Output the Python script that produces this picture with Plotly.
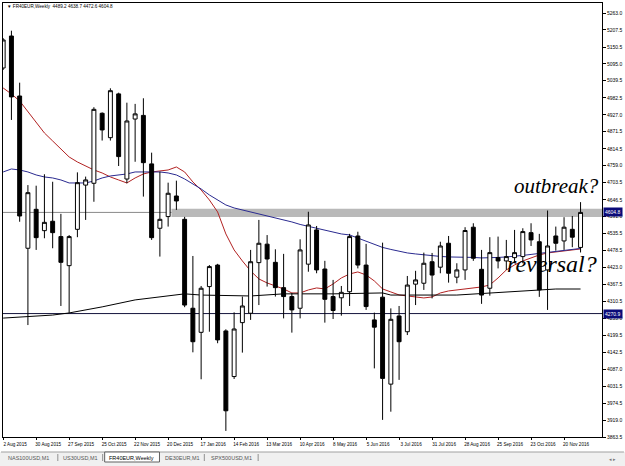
import plotly.graph_objects as go

# ---------------- data ----------------
tick_labels = ["2 Aug 2015", "30 Aug 2015", "27 Sep 2015", "25 Oct 2015", "22 Nov 2015",
               "20 Dec 2015", "17 Jan 2016", "14 Feb 2016", "13 Mar 2016", "10 Apr 2016",
               "8 May 2016", "5 Jun 2016", "3 Jul 2016", "31 Jul 2016", "28 Aug 2016",
               "25 Sep 2016", "23 Oct 2016", "20 Nov 2016"]
tick_pos = [0, 4, 8, 12, 16, 20, 24, 28, 32, 36, 40, 44, 48, 52, 56, 60, 64, 68]

bar_open = [5081.5, 5187, 4989, 4486.5, 4615, 4544.6, 4575.6, 4525, 4429, 4549,
            4695, 4701, 4932, 4851.5, 4996, 4715, 4913, 4925, 4765, 4552.5,
            4591, 4659, 4582, 4288.5, 4209, 4360, 4431, 4213.6, 4063, 4241,
            4272, 4439, 4500, 4440, 4356.5, 4327, 4288.5, 4434, 4547, 4418,
            4327, 4323, 4343, 4527, 4431, 4250, 4325, 4038, 4263, 4211,
            4368, 4371, 4442, 4424, 4503, 4391, 4415, 4556, 4417, 4354.5,
            4455.5, 4444.6, 4455.5, 4459, 4538, 4508, 4415, 4527, 4510.6, 4549,
            4489.2]
bar_high = [5180, 5204.6, 5033, 4695, 4693, 4730.7, 4706, 4600, 4530, 4737,
            4723, 4952, 4935, 5014.5, 5000, 4967, 4963, 4981.5, 4802, 4739,
            4703, 4709.6, 4590, 4461, 4362, 4431, 4435, 4219, 4275, 4327,
            4481, 4580, 4530, 4483, 4468, 4339, 4516, 4607, 4560, 4445,
            4382, 4362, 4534, 4541, 4501, 4274, 4505, 4288, 4296, 4395,
            4412, 4472, 4471, 4508, 4527, 4437, 4556, 4569, 4481, 4523,
            4525, 4514, 4547, 4552.5, 4569, 4534, 4611, 4558, 4589, 4593,
            4638.7]
bar_low = [5075, 4910, 4574, 4233, 4481, 4519.5, 4486.5, 4296, 4273, 4523,
           4580, 4640, 4842, 4842, 4758, 4701, 4772, 4657, 4514, 4459,
           4558, 4613, 4292, 4143, 4054, 4211, 4173, 3883.6, 4055, 4142,
           4250, 4299, 4360, 4327, 4255, 4208, 4255, 4409, 4404, 4241,
           4253, 4264, 4296, 4420, 4283, 4090, 3920, 3947, 4052, 4200,
           4299, 4349, 4321, 4404, 4373, 4371, 4382, 4445, 4303, 4330,
           4420, 4415, 4437, 4437, 4494, 4326, 4283, 4478.5, 4481, 4490,
           4472.6]
bar_close = [5174, 4986, 4593, 4670, 4521.5, 4572, 4538, 4440, 4525, 4703,
             4712, 4945, 4877, 5006.6, 4789, 4906.6, 4930, 4769, 4521.5, 4582,
             4668, 4642.6, 4299, 4178, 4354.5, 4426, 4184, 3950, 4220, 4296,
             4442, 4503, 4451, 4356.5, 4327, 4283, 4481, 4563.4, 4415, 4318,
             4281, 4341, 4525, 4431, 4294, 4226, 4057, 4252, 4178, 4365,
             4382, 4437, 4398, 4494, 4404, 4415, 4545, 4453.5, 4332, 4472,
             4444.6, 4459, 4472, 4541.5, 4514, 4349, 4494, 4503, 4556, 4523,
             4604.8]

ma_fast = [5015.5, 4995.7, 4972.6, 4936.3, 4900, 4867, 4840.6, 4814.2, 4787.8, 4771.3,
           4758.1, 4744.9, 4735, 4721.8, 4711.9, 4702, 4718.5, 4731.7, 4738.3, 4741.6,
           4744.9, 4754.8, 4738.3, 4705.3, 4678.9, 4645.9, 4606.3, 4533.7, 4480.9, 4444.6,
           4411.6, 4385.2, 4372, 4362.1, 4352.2, 4339, 4339, 4348.9, 4355.5, 4352.2,
           4368.7, 4388.5, 4401.7, 4408.3, 4398.4, 4378.6, 4352.2, 4342.3, 4332.4, 4329.1,
           4325.8, 4322.5, 4325.8, 4339, 4345.6, 4348.9, 4352.2, 4355.5, 4358.8, 4365.4,
           4388.5, 4414.9, 4431.4, 4444.6, 4454.5, 4464.4, 4471, 4474.3, 4477.6, 4480.9,
           4484.2]
ma_mid = [4738.3, 4748.2, 4744.9, 4738.3, 4728.4, 4721.8, 4718.5, 4711.9, 4702, 4702,
          4702, 4708.6, 4718.5, 4725.1, 4728.4, 4731.7, 4738.3, 4738.3, 4738.3, 4738.3,
          4735, 4728.4, 4715.2, 4698.7, 4682.2, 4662.4, 4645.9, 4629.4, 4619.5, 4612.9,
          4606.3, 4599.7, 4594.8, 4586.5, 4579.9, 4573.3, 4565.1, 4558.5, 4553.5, 4545.3,
          4538.7, 4533.7, 4530.4, 4520.5, 4510.6, 4499.1, 4489.2, 4482.6, 4476, 4471,
          4467.7, 4464.4, 4462.8, 4459.5, 4457.8, 4457.8, 4457.8, 4456.2, 4454.5, 4454.5,
          4456.2, 4457.8, 4459.5, 4462.8, 4466.1, 4469.4, 4472.7, 4476, 4479.3, 4482.6,
          4485.9]
ma_slow_idx = [0, 6, 8, 12, 16, 22, 24, 30, 34, 40, 46, 47, 55, 59, 67, 70]
ma_slow = [4256, 4266, 4273, 4293, 4316, 4336, 4332, 4329, 4336, 4336,
           4339, 4332, 4332, 4339, 4352, 4352]

band_low, band_high = 4590, 4617
band_start = 20.4
support_level = 4270.9
y_tick_vals = [5263.0, 5207.5, 5150.5, 5095.0, 5039.5, 4982.5, 4927.0, 4871.5, 4814.5,
               4759.0, 4703.5, 4646.5, 4591.0, 4535.5, 4478.5, 4423.0, 4367.5, 4310.5,
               4255.0, 4199.5, 4142.5, 4087.0, 4031.5, 3974.5, 3919.0, 3863.5]
tabs = ["NAS100USD,M1", "US30USD,M1", "FR40EUR,Weekly", "DE30EUR,M1", "SPX500USD,M1"]

# ---------------- layout geometry ----------------
W, H = 625, 466
ML, MR, MT, MB = 2, 22, 3, 29
PW, PH = W - ML - MR, H - MT - MB
x_range = [-0.02, 72.6]
y_range = [3863.5, 5296]
FONT = "Liberation Sans"


def px(xp):
    return (xp - ML) / PW


def py(yp):
    return (H - MB - yp) / PH


idx = list(range(len(bar_open)))

fig = go.Figure()
fig.add_trace(go.Scatter(x=idx, y=ma_fast, mode="lines", line=dict(color="#b22222", width=1),
                         hoverinfo="skip", showlegend=False))
fig.add_trace(go.Scatter(x=idx, y=ma_mid, mode="lines", line=dict(color="#2a2a90", width=1),
                         hoverinfo="skip", showlegend=False))
fig.add_trace(go.Scatter(x=ma_slow_idx, y=ma_slow, mode="lines", line=dict(color="#000000", width=1),
                         hoverinfo="skip", showlegend=False))
fig.add_trace(go.Candlestick(x=idx, open=bar_open, high=bar_high, low=bar_low, close=bar_close,
                             xaxis="x2", yaxis="y2",
                             increasing=dict(fillcolor="white", line=dict(color="black", width=1)),
                             decreasing=dict(fillcolor="black", line=dict(color="black", width=1)),
                             whiskerwidth=0, hoverinfo="skip", showlegend=False))

shapes = [
    dict(type="rect", xref="x", yref="y", x0=band_start, x1=x_range[1], y0=band_low, y1=band_high,
         fillcolor="#b9b9b9", line=dict(width=0), layer="below"),
    dict(type="line", xref="paper", yref="y", x0=0, x1=1, y0=bar_close[-1], y1=bar_close[-1],
         line=dict(color="#8a8a8a", width=1), layer="below"),
    dict(type="line", xref="paper", yref="y", x0=0, x1=1, y0=support_level, y1=support_level,
         line=dict(color="#14143c", width=1), layer="below"),
    # tab bar
    dict(type="rect", xref="paper", yref="paper", x0=px(-5), x1=px(630), y0=py(467), y1=py(452),
         fillcolor="#f0f0f0", line=dict(width=0)),
    dict(type="line", xref="paper", yref="paper", x0=px(0), x1=px(625), y0=py(452), y1=py(452),
         line=dict(color="#a0a0a0", width=1)),
    dict(type="rect", xref="paper", yref="paper", x0=px(104), x1=px(159), y0=py(462), y1=py(452),
         fillcolor="white", line=dict(color="#606060", width=1)),
]
for sx in [57, 102, 204, 258]:
    shapes.append(dict(type="line", xref="paper", yref="paper", x0=px(sx), x1=px(sx),
                       y0=py(461), y1=py(454), line=dict(color="#909090", width=1)))

annotations = [
    dict(xref="paper", yref="paper", x=px(4), y=py(7), xanchor="left", yanchor="middle",
         showarrow=False, font=dict(family=FONT, size=4.6, color="black"),
         text="▼ FR40EUR,Weekly  %.1f %.1f %.1f %.1f" % (bar_open[-1], bar_high[-1],
                                                           bar_low[-1], bar_close[-1])),
    dict(xref="paper", yref="y", x=1, y=bar_close[-1], xanchor="left", yanchor="middle", xshift=1,
         showarrow=False, text="%.1f" % bar_close[-1], bgcolor="#0a0a78", borderpad=1,
         font=dict(family=FONT, size=5, color="white")),
    dict(xref="paper", yref="y", x=1, y=support_level, xanchor="left", yanchor="middle", xshift=1,
         showarrow=False, text="%.1f" % support_level, bgcolor="#0a0a78", borderpad=1,
         font=dict(family=FONT, size=5, color="white")),
    dict(xref="x", yref="y", x=61.7, y=4692, xanchor="left", yanchor="middle", showarrow=False,
         text="<i>outbreak?</i>", font=dict(family="Liberation Serif", size=21, color="black")),
    dict(xref="x", yref="y", x=60.8, y=4434, xanchor="left", yanchor="middle", showarrow=False,
         text="<i>reversal?</i>", font=dict(family="Liberation Serif", size=24, color="black")),
]
tab_centers = [28, 80, 131, 182, 231]
for t, c in zip(tabs, tab_centers):
    annotations.append(dict(xref="paper", yref="paper", x=px(c), y=py(457.5), xanchor="center",
                            yanchor="middle", showarrow=False, text=t,
                            font=dict(family=FONT, size=5.5,
                                      color="black" if t == "FR40EUR,Weekly" else "#555555")))
annotations.append(dict(xref="paper", yref="paper", x=px(614), y=py(459), xanchor="center",
                        yanchor="middle", showarrow=False, text="◂ ▸",
                        font=dict(family=FONT, size=5, color="#777777")))

axis_common = dict(showgrid=False, zeroline=False, showline=True, mirror=True,
                   linecolor="black", linewidth=1)

fig.update_layout(
    width=W, height=H, margin=dict(l=ML, r=MR, t=MT, b=MB),
    paper_bgcolor="white", plot_bgcolor="white", showlegend=False,
    boxgap=0.32,
    xaxis=dict(range=x_range, tickvals=tick_pos, ticktext=tick_labels, ticks="outside",
               ticklen=2, tickcolor="black", ticklabelshift=12,
               tickfont=dict(family=FONT, size=4.6, color="black"),
               rangeslider=dict(visible=False), **axis_common),
    yaxis=dict(range=y_range, side="right", tickvals=y_tick_vals,
               ticktext=["%.1f" % v for v in y_tick_vals], ticks="outside", ticklen=3,
               tickcolor="black", tickfont=dict(family=FONT, size=5, color="black"),
               **axis_common),
    xaxis2=dict(range=x_range, overlaying="x", anchor="y2", visible=False,
                rangeslider=dict(visible=False)),
    yaxis2=dict(range=y_range, overlaying="y", anchor="x2", visible=False),
    shapes=shapes, annotations=annotations,
)

fig.write_html("out.html")
